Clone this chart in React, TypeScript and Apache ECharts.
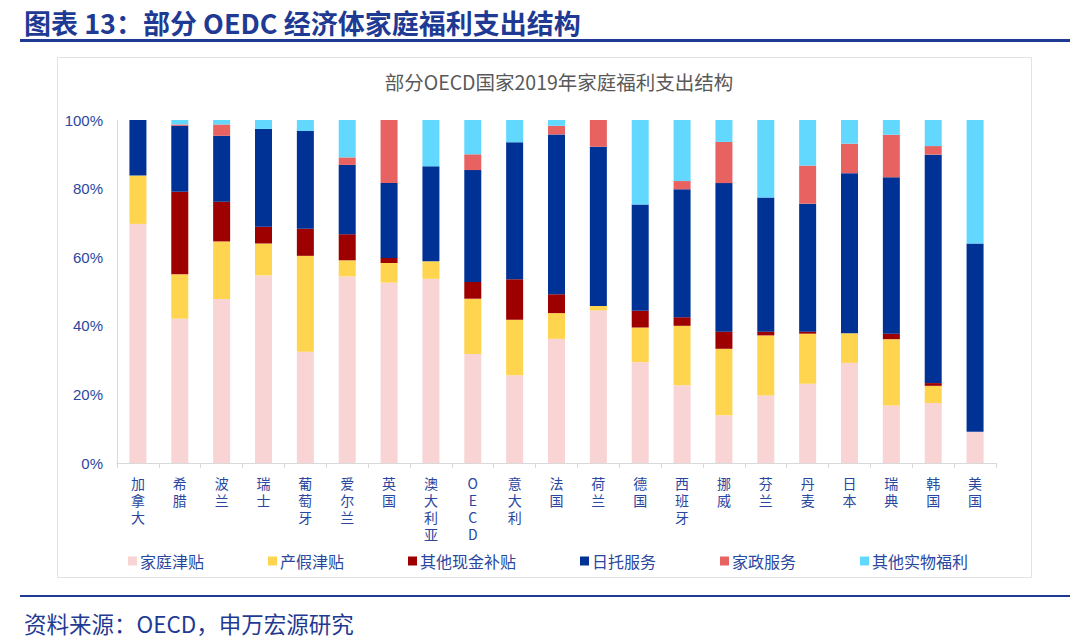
import React, { useEffect, useRef } from "react";
import * as echarts from "echarts";

const categories = ["加拿大", "希腊", "波兰", "瑞士", "葡萄牙", "爱尔兰", "英国", "澳大利亚", "OECD", "意大利", "法国", "荷兰", "德国", "西班牙", "挪威", "芬兰", "丹麦", "日本", "瑞典", "韩国", "美国"];

const familyAllowance = [69.7, 42.1, 47.8, 54.7, 32.4, 54.4, 52.6, 53.7, 31.8, 25.6, 36.2, 44.5, 29.4, 22.7, 13.9, 19.7, 23.1, 29.2, 16.8, 17.5, 9.1];
const maternityAllowance = [14.1, 12.9, 16.8, 9.3, 28.0, 4.7, 5.7, 5.1, 16.1, 16.2, 7.5, 1.3, 10.1, 17.3, 19.4, 17.5, 14.6, 8.6, 19.3, 5.0, 0];
const otherCash = [0, 24.1, 11.6, 4.9, 7.9, 7.6, 1.5, 0, 4.9, 11.8, 5.5, 0, 4.9, 2.5, 5.0, 1.1, 0.6, 0, 1.6, 0.8, 0];
const dayCare = [16.2, 19.2, 19.2, 28.5, 28.5, 20.2, 21.8, 27.7, 32.6, 39.9, 46.6, 46.4, 31.0, 37.3, 43.3, 39.1, 37.3, 46.7, 45.6, 66.6, 54.9];
const homeHelp = [0, 0.4, 3.3, 0, 0, 2.2, 18.4, 0, 4.6, 0, 2.5, 7.8, 0, 2.4, 12.0, 0, 11.1, 8.6, 12.4, 2.5, 0];
const otherInKind = [0, 1.3, 1.3, 2.6, 3.2, 10.9, 0, 13.5, 10.0, 6.5, 1.7, 0, 24.6, 17.8, 6.4, 22.6, 13.3, 6.9, 4.3, 7.6, 36.0];

const seriesNames = ["家庭津贴", "产假津贴", "其他现金补贴", "日托服务", "家政服务", "其他实物福利"];
const seriesData = [familyAllowance, maternityAllowance, otherCash, dayCare, homeHelp, otherInKind];
const seriesColors = ["#F8D4D5", "#FFD44F", "#9E0000", "#003296", "#E86262", "#62D8FF"];

const mainTitle = "图表 13：部分 OEDC 经济体家庭福利支出结构";
const chartTitle = "部分OECD国家2019年家庭福利支出结构";
const sourceText = "资料来源：OECD，申万宏源研究";

const BLUE_TEXT = "#2A479F";
const CJK = "'Noto Sans CJK SC', 'Noto Sans', sans-serif";

export default function App() {
  const ref = useRef<HTMLDivElement>(null);

  useEffect(() => {
    if (!ref.current) return;
    const chart = echarts.init(ref.current, null, { renderer: "svg" });
    chart.setOption({
      animation: false,
      backgroundColor: "#ffffff",
      title: [
        {
          text: mainTitle,
          left: 19,
          top: 4,
          textStyle: { fontFamily: CJK, fontSize: 27, fontWeight: "bold", color: "#1F3A93" },
        },
        {
          text: chartTitle,
          left: 554,
          textAlign: "center",
          top: 67,
          textStyle: { fontFamily: CJK, fontSize: 19.5, fontWeight: "normal", color: "#595959" },
        },
        {
          text: sourceText,
          left: 19,
          top: 607,
          textStyle: { fontFamily: CJK, fontSize: 22.5, fontWeight: "normal", color: "#1F3A93" },
        },
      ],
      graphic: [
        { type: "rect", shape: { x: 20, y: 39, width: 1050, height: 3 }, style: { fill: "#1F3A93" } },
        { type: "rect", shape: { x: 20, y: 595, width: 1050, height: 2 }, style: { fill: "#1F3A93" } },
        { type: "rect", shape: { x: 57.5, y: 57.5, width: 974, height: 520 }, style: { fill: "none", stroke: "#E3E3E3", lineWidth: 1 } },
      ],
      legend: {
        left: 123,
        top: 548,
        itemWidth: 9,
        itemHeight: 9,
        itemGap: 64,
        icon: "rect",
        textStyle: { fontFamily: CJK, fontSize: 16, color: BLUE_TEXT, padding: [0, 0, 0, -2] },
        data: seriesNames,
      },
      grid: { left: 117, right: 84, top: 120, bottom: 179, containLabel: false },
      xAxis: {
        type: "category",
        data: categories,
        axisLine: { show: true, lineStyle: { color: "#D9D9D9", width: 1 } },
        axisTick: { show: true, length: 5, lineStyle: { color: "#D9D9D9" } },
        axisLabel: {
          interval: 0,
          margin: 11,
          fontFamily: CJK,
          fontSize: 14,
          lineHeight: 17,
          color: BLUE_TEXT,
          formatter: (v: string) => v.split("").join("\n"),
        },
      },
      yAxis: {
        type: "value",
        min: 0,
        max: 100,
        interval: 20,
        splitLine: { show: false },
        axisLine: { show: true, lineStyle: { color: "#D9D9D9", width: 1 } },
        axisTick: { show: false },
        axisLabel: {
          margin: 14,
          fontFamily: "'Liberation Sans', Arial, sans-serif",
          fontSize: 15,
          color: BLUE_TEXT,
          formatter: "{value}%",
        },
      },
      series: seriesNames.map((name, i) => ({
        name,
        type: "bar",
        stack: "total",
        barWidth: 17,
        data: seriesData[i],
        itemStyle: { color: seriesColors[i] },
      })),
    });
    return () => chart.dispose();
  }, []);

  return (
    <div style={{ position: "absolute", left: 0, top: 0, width: 1080, height: 642 }}>
      <div ref={ref} style={{ width: 1080, height: 642 }} />
    </div>
  );
}
